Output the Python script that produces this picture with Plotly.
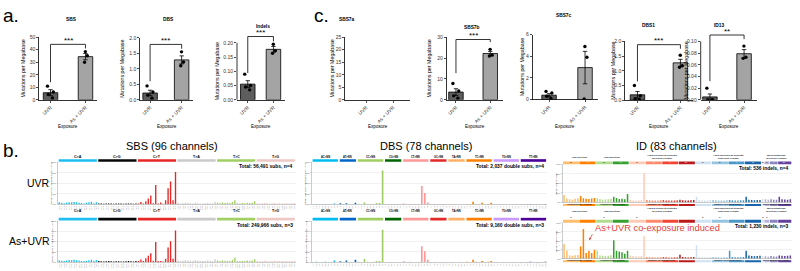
import plotly.graph_objects as go

W, H = 800, 271
FONT = "Liberation Sans, Arial, sans-serif"


def fx(p):
    return p / W


def fy(p):
    return 1 - p / H


# ======================= panel a / c : bar charts =======================
EXPOSURE = ["UVR", "As + UVR"]

SBS_UVR_PTS = [10.9, 6.2, 4.3, 1.5]
SBS_AS_PTS = [38.5, 35.2, 30.0]
SBS_MEAN = [5.7, 34.5]
SBS_SEM = [2.4, 2.5]
SBS_TICKS = [0, 10, 20, 30, 40, 50]
SBS_BRACKET = [14.0, 44.3, 41.0]

DBS_UVR_PTS = [0.45, 0.25, 0.15, 0.05]
DBS_AS_PTS = [1.55, 1.22, 1.10]
DBS_MEAN = [0.22, 1.29]
DBS_SEM = [0.09, 0.13]
DBS_TICKS = [0, 0.5, 1.0, 1.5, 2.0]
DBS_TICKTEXT = ["0.0", "0.5", "1.0", "1.5", "2.0"]
DBS_BRACKET = [0.60, 1.79, 1.65]

IND_UVR_PTS = [0.090, 0.050, 0.045, 0.035]
IND_AS_PTS = [0.195, 0.172, 0.163]
IND_MEAN = [0.055, 0.177]
IND_SEM = [0.012, 0.010]
IND_TICKS = [0, 0.05, 0.10, 0.15, 0.20]
IND_TICKTEXT = ["0.00", "0.05", "0.10", "0.15", "0.20"]
IND_BRACKET = [0.094, 0.222, 0.205]

SBS7A_TICKS = [0, 5, 10, 15, 20, 25]

SBS7B_UVR_PTS = [7.8, 4.2, 1.9, 0.8]
SBS7B_AS_PTS = [24.2, 21.4, 21.0]
SBS7B_MEAN = [3.7, 22.2]
SBS7B_SEM = [1.6, 1.0]
SBS7B_TICKS = [0, 10, 20, 30]
SBS7B_BRACKET = [12.8, 28.9, 27.7]

SBS7C_UVR_PTS = [0.60, 0.75, 0.30, 0.10]
SBS7C_AS_PTS = [4.90, 3.90, 0.05]
SBS7C_MEAN = [0.40, 2.95]
SBS7C_SEM = [0.14, 1.50]
SBS7C_TICKS = [0, 2, 4, 6]

DBS1_UVR_PTS = [0.50, 0.15, 0.05, 0.02]
DBS1_AS_PTS = [1.53, 1.17, 1.12]
DBS1_MEAN = [0.18, 1.27]
DBS1_SEM = [0.11, 0.12]
DBS1_BRACKET = [0.64, 1.89, 1.75]

ID13_UVR_PTS = [0.020, 0.0, 0.0, 0.0]
ID13_AS_PTS = [0.092, 0.073, 0.071]
ID13_MEAN = [0.005, 0.079]
ID13_SEM = [0.005, 0.007]
ID13_TICKS = [0, 0.02, 0.04, 0.06, 0.08, 0.10]
ID13_TICKTEXT = ["0.00", "0.02", "0.04", "0.06", "0.08", "0.10"]
ID13_BRACKET = [0.032, 0.111, 0.104]

# ======================= panel b : spectra =======================
SBS96_CLASSES = ["C>A", "C>G", "C>T", "T>A", "T>C", "T>G"]
SBS96_FLANKS = ["A", "C", "G", "T"]
SBS96_TICKTEXT = [a + c[0] + b for c in SBS96_CLASSES for a in SBS96_FLANKS for b in SBS96_FLANKS]

SBS_UVR_CA = [1.0, 0.8, 0.6, 0.9, 1.1, 1.0, 1.2, 1.0, 0.8, 0.7, 0.5, 0.8, 1.0, 1.3, 0.6, 1.1]
SBS_UVR_CG = [0.5, 0.4, 0.3, 0.5, 0.5, 0.4, 0.3, 0.5, 0.4, 0.4, 0.3, 0.4, 0.5, 0.5, 0.3, 0.5]
SBS_UVR_CT = [0.5, 1.2, 0.4, 1.5, 2.8, 4.3, 0.6, 9.2, 0.4, 0.9, 0.3, 2.0, 7.7, 10.9, 2.0, 15.4]
SBS_UVR_TA = [0.7, 0.5, 0.6, 0.8, 0.7, 0.6, 0.5, 0.8, 0.6, 0.5, 0.5, 0.6, 0.7, 0.6, 0.6, 1.3]
SBS_UVR_TC = [0.8, 0.6, 0.9, 0.7, 0.8, 0.7, 1.2, 2.0, 0.6, 0.5, 0.7, 0.6, 0.8, 0.7, 0.8, 1.5]
SBS_UVR_TG = [0.6, 0.5, 0.6, 0.7, 0.6, 0.5, 0.6, 0.7, 0.5, 0.6, 0.5, 0.6, 0.6, 0.5, 0.6, 0.7]
SBS_UVR_SPECTRUM = SBS_UVR_CA + SBS_UVR_CG + SBS_UVR_CT + SBS_UVR_TA + SBS_UVR_TC + SBS_UVR_TG

SBS_AS_CA = [0.9, 0.7, 0.6, 0.8, 1.0, 0.9, 1.2, 0.9, 0.8, 0.6, 0.5, 0.7, 0.9, 1.1, 0.6, 1.0]
SBS_AS_CG = [0.5, 0.4, 0.3, 0.4, 0.5, 0.4, 0.3, 0.4, 0.4, 0.3, 0.3, 0.4, 0.5, 0.4, 0.3, 0.5]
SBS_AS_CT = [0.6, 1.3, 0.5, 1.9, 3.1, 4.3, 0.7, 9.8, 0.5, 0.6, 0.3, 1.6, 7.1, 10.2, 1.6, 15.4]
SBS_AS_TA = [0.8, 0.6, 0.7, 0.9, 0.8, 0.7, 0.5, 0.9, 0.7, 0.6, 0.5, 0.7, 0.8, 0.7, 0.6, 1.4]
SBS_AS_TC = [0.8, 0.6, 0.8, 0.7, 0.7, 0.6, 1.1, 2.2, 0.6, 0.5, 0.6, 0.6, 0.8, 0.7, 0.8, 1.4]
SBS_AS_TG = [0.6, 0.5, 0.6, 0.7, 0.6, 0.5, 0.5, 0.7, 0.5, 0.6, 0.5, 0.6, 0.6, 0.5, 0.6, 0.7]
SBS_AS_SPECTRUM = SBS_AS_CA + SBS_AS_CG + SBS_AS_CT + SBS_AS_TA + SBS_AS_TC + SBS_AS_TG

SBS_YTICKS = [0, 5, 10, 15, 20]

DBS78_CLASSES = ["AC>NN", "AT>NN", "CC>NN", "CG>NN", "CT>NN", "GC>NN", "TA>NN", "TC>NN", "TG>NN", "TT>NN"]
DBS78_TARGETS = [
    ["CA", "CG", "CT", "GA", "GG", "GT", "TA", "TG", "TT"],
    ["CA", "CC", "CG", "GA", "GC", "TA"],
    ["AA", "AG", "AT", "GA", "GG", "GT", "TA", "TG", "TT"],
    ["AT", "GC", "GT", "TA", "TC", "TT"],
    ["AA", "AC", "AG", "GA", "GC", "GG", "TA", "TC", "TG"],
    ["AA", "AG", "AT", "CA", "CG", "TA"],
    ["AT", "CG", "CT", "GC", "GG", "GT"],
    ["AA", "AG", "AT", "CA", "CG", "CT", "GA", "GG", "GT"],
    ["AA", "AC", "AT", "CA", "CC", "CT", "GA", "GC", "GT"],
    ["AA", "AC", "AG", "CA", "CC", "CG", "GA", "GC", "GG"],
]
DBS78_TICKTEXT = [t for grp in DBS78_TARGETS for t in grp]

DBS_UVR_SPECTRUM = (
    [0.2, 0.3, 0.1, 0.2, 0.3, 0.2, 0.1, 1.0, 0.2]
    + [1.2, 0.2, 1.2, 0.1, 0.2, 1.5]
    + [0.3, 0.2, 1.9, 0.3, 0.2, 0.4, 1.3, 1.3, 32.2]
    + [0.1, 0.1, 0.2, 0.1, 0.1, 0.1]
    + [1.0, 0.1, 0.3, 0.2, 0.1, 0.2, 17.5, 10.9, 1.9]
    + [0.1, 0.1, 0.1, 0.1, 0.1, 0.1]
    + [0.2, 0.1, 0.2, 0.1, 0.1, 0.2]
    + [0.3, 0.2, 2.5, 0.3, 0.2, 1.5, 0.2, 0.3, 1.5]
    + [0.2, 0.1, 0.2, 0.1, 0.2, 0.1, 0.2, 0.1, 0.2]
    + [0.2, 0.1, 0.2, 0.3, 0.1, 0.2, 0.1, 0.2, 0.3]
)
DBS_AS_SPECTRUM = (
    [0.2, 0.3, 0.1, 0.2, 0.3, 0.2, 0.1, 1.6, 0.2]
    + [0.8, 0.2, 1.6, 0.1, 0.2, 2.2]
    + [0.3, 0.2, 3.1, 0.3, 0.2, 0.4, 1.2, 1.2, 31.6]
    + [0.1, 0.1, 0.2, 0.1, 0.1, 0.1]
    + [0.8, 0.1, 0.3, 0.2, 0.1, 0.2, 15.5, 10.5, 2.2]
    + [0.1, 0.1, 0.1, 0.1, 0.1, 0.1]
    + [0.2, 0.1, 0.2, 0.1, 0.1, 0.2]
    + [0.3, 0.2, 2.2, 0.3, 0.2, 1.0, 0.2, 0.3, 1.2]
    + [0.2, 0.1, 0.2, 0.1, 0.2, 0.1, 0.2, 0.1, 0.2]
    + [0.2, 0.1, 0.2, 0.3, 0.1, 0.2, 0.1, 0.2, 0.3]
)
DBS_YTICKS = [0, 10, 20, 30, 40]

ID83_STRIPS = ["C", "T", "C", "T", "2", "3", "4", "5+", "2", "3", "4", "5+", "2", "3", "4", "5+"]
ID83_SIZES = [6, 6, 6, 6, 6, 6, 6, 6, 6, 6, 6, 6, 1, 2, 3, 5]
ID83_HEADERS = ["1bp Deletion", "1bp Insertion", ">1bp Deletion at Repeats<br>(Deletion Length)",
                ">1bp Insertion at Repeats<br>(Insertion Length)", "Microhomology<br>(Deletion Length)"]
ID83_FOOTERS = ["Homopolymer Length", "Homopolymer Length", "Number of Repeat Units",
                "Number of Repeat Units", "Microhomology Length"]
ID83_HEADER_SPANS = [(0, 1), (2, 3), (4, 7), (8, 11), (12, 15)]

ID_UVR_SPECTRUM = (
    [7.8, 4.2, 3.5, 3.0, 3.8, 4.5]
    + [6.8, 4.4, 4.0, 3.6, 4.2, 4.8]
    + [4.4, 3.6, 3.0, 3.2, 3.4, 4.0]
    + [6.1, 4.8, 3.6, 3.9, 3.5, 8.8]
    + [2.7, 2.2, 2.0, 2.2, 2.4, 30.8]
    + [2.7, 2.3, 2.2, 2.0, 2.1, 2.3]
    + [2.7, 2.2, 2.1, 2.0, 2.2, 2.4]
    + [2.9, 2.4, 2.2, 2.1, 2.3, 2.5]
    + [6.1, 2.7, 2.4, 2.2, 2.3, 2.5]
    + [2.7, 2.3, 2.2, 2.1, 2.2, 2.4]
    + [2.7, 2.4, 2.2, 2.0, 2.3, 2.4]
    + [6.1, 2.9, 2.6, 2.4, 2.5, 2.7]
    + [3.7]
    + [3.5, 3.0]
    + [3.3, 3.0, 2.8]
    + [6.0, 3.5, 3.2, 3.0, 3.4]
)
ID_AS_SPECTRUM = (
    [16.4, 9.0, 3.6, 3.2, 3.8, 4.2]
    + [13.6, 32.9, 6.4, 8.9, 6.4, 10.0]
    + [8.9, 3.6, 3.2, 3.0, 3.4, 3.8]
    + [20.4, 8.9, 7.9, 7.1, 5.4, 8.9]
    + [3.6, 3.0, 2.8, 2.6, 3.0, 25.0]
    + [1.8, 1.6, 1.5, 1.4, 1.5, 1.7]
    + [1.8, 1.5, 1.4, 1.3, 1.5, 1.7]
    + [4.3, 1.8, 1.5, 1.4, 1.6, 1.8]
    + [15.0, 1.8, 1.6, 1.5, 1.6, 1.8]
    + [1.8, 1.6, 1.5, 1.4, 1.5, 1.7]
    + [8.9, 1.8, 1.6, 1.5, 1.6, 1.8]
    + [8.9, 3.6, 3.0, 2.8, 3.0, 3.4]
    + [2.9]
    + [2.9, 2.5]
    + [2.9, 2.6, 2.4]
    + [3.6, 3.2, 3.0, 3.3, 3.6]
)
ID_YTICKS = [0, 10, 20, 30, 40]

TOTALS = {
    ("SBS", 0): "Total: 56,491 subs, n=4",
    ("SBS", 1): "Total: 249,966 subs, n=3",
    ("DBS", 0): "Total: 2,037 double subs, n=4",
    ("DBS", 1): "Total: 9,160 double subs, n=3",
    ("ID", 0): "Total: 536 indels, n=4",
    ("ID", 1): "Total: 1,230 indels, n=3",
}

# ======================= styles =======================
BAR_FILLS = ["#5d5d5d", "#a4a4a4"]
SBS_COLORS = ["#1ebff0", "#050708", "#e62725", "#cbcacb", "#a1cf64", "#edc8c5"]
DBS_COLORS = ["#03bcee", "#0266ca", "#a1ce63", "#006501", "#ff9898", "#e22926",
              "#ffb066", "#fd8000", "#cb98fd", "#4c0299"]
ID_COLORS = ["#fdbe6f", "#ff8001", "#b0dd8b", "#36a12e", "#fdcab5", "#fc8a6a", "#f14432", "#bc191a",
             "#d0e1f2", "#94c4df", "#4a98c9", "#1764ab", "#e2e2ef", "#b6b6d8", "#8683bd", "#62409b"]
ID_STRIP_TEXT = ["black", "white", "black", "white", "black", "white", "white", "white",
                 "black", "black", "white", "white", "black", "black", "white", "white"]

layout = dict(
    width=W, height=H, margin=dict(l=0, r=0, t=0, b=0), autosize=False,
    paper_bgcolor="white", plot_bgcolor="white", showlegend=False,
    font=dict(family=FONT, color="black"),
)
traces, shapes, annotations = [], [], []


def ax_names(n):
    s = "" if n == 1 else str(n)
    return "xaxis" + s, "yaxis" + s, "x" + s, "y" + s


def text(t, x, y, size, xanchor="center", yanchor="middle", color="black", angle=0, bold=False, **kw):
    if bold:
        t = "<b>" + t + "</b>"
    d = dict(text=t, x=fx(x), y=fy(y), xref="paper", yref="paper", showarrow=False,
             xanchor=xanchor, yanchor=yanchor, textangle=angle,
             font=dict(size=size, color=color, family=FONT))
    d.update(kw)
    annotations.append(d)


BAR_CHARTS = [
    dict(title="SBS", uvr=SBS_UVR_PTS, asu=SBS_AS_PTS, mean=SBS_MEAN, sem=SBS_SEM, ticks=SBS_TICKS,
         ticktext=None, bracket=SBS_BRACKET, stars="***", box=(39, 97, 35, 99), xrange=[-0.33, 1.33],
         ext=None, ytx=23, tpos=(71, 17)),
    dict(title="DBS", uvr=DBS_UVR_PTS, asu=DBS_AS_PTS, mean=DBS_MEAN, sem=DBS_SEM, ticks=DBS_TICKS,
         ticktext=DBS_TICKTEXT, bracket=DBS_BRACKET, stars="***", box=(140, 193, 35.7, 99),
         xrange=[-0.32, 1.36], ext=None, ytx=122, tpos=(168, 17)),
    dict(title="Indels", uvr=IND_UVR_PTS, asu=IND_AS_PTS, mean=IND_MEAN, sem=IND_SEM, ticks=IND_TICKS,
         ticktext=IND_TICKTEXT, bracket=IND_BRACKET, stars="***", box=(237, 285, 40.7, 99),
         xrange=[-0.42, 1.45], ext=0.232, ytx=217, tpos=(263, 24.3)),
    dict(title="SBS7a", uvr=None, asu=None, mean=None, sem=None, ticks=SBS7A_TICKS,
         ticktext=None, bracket=None, stars=None, box=(345, 410, 35, 99),
         xrange=[-0.78, 1.63], ext=None, ytx=332, tpos=(347, 17)),
    dict(title="SBS7b", uvr=SBS7B_UVR_PTS, asu=SBS7B_AS_PTS, mean=SBS7B_MEAN, sem=SBS7B_SEM,
         ticks=SBS7B_TICKS, ticktext=None, bracket=SBS7B_BRACKET, stars="***", box=(446.7, 503.3, 35, 99),
         xrange=[-0.27, 1.38], ext=None, ytx=429, tpos=(472.5, 25)),
    dict(title="SBS7c", uvr=SBS7C_UVR_PTS, asu=SBS7C_AS_PTS, mean=SBS7C_MEAN, sem=SBS7C_SEM,
         ticks=SBS7C_TICKS, ticktext=None, bracket=None, stars=None, box=(532.5, 598, 32.3, 98.7),
         xrange=[-0.46, 1.36], ext=None, ytx=522, tpos=(564, 12.7)),
    dict(title="DBS1", uvr=DBS1_UVR_PTS, asu=DBS1_AS_PTS, mean=DBS1_MEAN, sem=DBS1_SEM, ticks=DBS_TICKS,
         ticktext=DBS_TICKTEXT, bracket=DBS1_BRACKET, stars="***", box=(625, 693.3, 39.3, 99.3),
         xrange=[-0.29, 1.30], ext=None, ytx=613, tpos=(648, 22.7)),
    dict(title="ID13", uvr=ID13_UVR_PTS, asu=ID13_AS_PTS, mean=ID13_MEAN, sem=ID13_SEM, ticks=ID13_TICKS,
         ticktext=ID13_TICKTEXT, bracket=ID13_BRACKET, stars="**", box=(700.7, 756.7, 39.3, 99),
         xrange=[-0.27, 1.37], ext=0.116, ytx=686, tpos=(718.5, 22.7)),
]

for i, c in enumerate(BAR_CHARTS):
    n = i + 1
    xk, yk, xr, yr = ax_names(n)
    L, R, T, B = c["box"]
    tmax = c["ticks"][-1]
    ext = c["ext"] or tmax
    top_px = B - (B - T) * ext / tmax
    unit_px = (R - L) / (c["xrange"][1] - c["xrange"][0])
    layout[xk] = dict(domain=[fx(L), fx(R)], anchor=yr, type="category", categoryorder="array",
                      categoryarray=EXPOSURE, range=c["xrange"], showline=True, linecolor="black",
                      linewidth=0.8, ticks="outside", ticklen=2, tickwidth=0.7, tickcolor="black",
                      tickangle=-45, tickfont=dict(size=5, color="#333"), showgrid=False,
                      zeroline=False, fixedrange=True)
    ya = dict(domain=[fy(B), fy(top_px)], anchor=xr, range=[0, ext], tickmode="array",
              tickvals=c["ticks"], showline=(ext == tmax), linecolor="black", linewidth=0.8,
              ticks="outside", ticklen=2, tickwidth=0.7, tickcolor="black",
              tickfont=dict(size=5, color="#333"), showgrid=False, zeroline=False, fixedrange=True)
    if c["ticktext"]:
        ya["ticktext"] = c["ticktext"]
    layout[yk] = ya
    if ext != tmax:
        shapes.append(dict(type="line", xref=xr + " domain", yref=yr, x0=0, x1=0, y0=0, y1=tmax,
                           line=dict(color="black", width=0.8)))
    if c["mean"]:
        traces.append(go.Bar(x=EXPOSURE, y=c["mean"], width=14.5 / unit_px,
                             marker=dict(color=BAR_FILLS, line=dict(color="black", width=0.8)),
                             error_y=dict(type="data", array=c["sem"], color="black", thickness=0.8, width=2.2),
                             xaxis=xr, yaxis=yr, hoverinfo="skip"))
        pts_x = [EXPOSURE[0]] * len(c["uvr"]) + [EXPOSURE[1]] * len(c["asu"])
        traces.append(go.Box(x=pts_x, y=c["uvr"] + c["asu"], boxpoints="all", jitter=0.9, pointpos=0,
                             width=8 / unit_px, fillcolor="rgba(0,0,0,0)",
                             line=dict(width=0, color="rgba(0,0,0,0)"),
                             marker=dict(color="black", size=3.4), xaxis=xr, yaxis=yr, hoverinfo="skip"))
    else:
        traces.append(go.Scatter(x=EXPOSURE, y=[0, 0], mode="markers", marker=dict(opacity=0),
                                 xaxis=xr, yaxis=yr, hoverinfo="skip"))
    if c["bracket"]:
        lb, h, rb = c["bracket"]
        traces.append(go.Scatter(x=[EXPOSURE[0], EXPOSURE[0], EXPOSURE[1], EXPOSURE[1]], y=[lb, h, h, rb],
                                 mode="lines", line=dict(color="black", width=0.8),
                                 xaxis=xr, yaxis=yr, hoverinfo="skip"))
        annotations.append(dict(text=c["stars"], x=0.5, y=h, xref=xr, yref=yr, yanchor="bottom",
                                showarrow=False, yshift=-2.5, font=dict(size=8, color="black", family=FONT)))
    text(c["title"], c["tpos"][0], c["tpos"][1], 4.8, bold=True)
    text("Mutations per Megabase", c["ytx"], (T + B) / 2, 5.3, angle=-90)
    text("Exposure", (L + R) / 2, 126.5, 4.6)

# ----------------------- spectra -----------------------
SPECTRA = [
    dict(kind="SBS", row=0, box=(58, 295.5, 163, 206), values=SBS_UVR_SPECTRUM),
    dict(kind="SBS", row=1, box=(58, 295.5, 223, 265), values=SBS_AS_SPECTRUM),
    dict(kind="DBS", row=0, box=(311.7, 547, 163, 206), values=DBS_UVR_SPECTRUM),
    dict(kind="DBS", row=1, box=(311.7, 547, 223, 265), values=DBS_AS_SPECTRUM),
    dict(kind="ID", row=0, box=(562.7, 791.7, 165, 204), values=ID_UVR_SPECTRUM),
    dict(kind="ID", row=1, box=(562.7, 791.7, 224.7, 261.5), values=ID_AS_SPECTRUM),
]

for j, s in enumerate(SPECTRA):
    n = 9 + j
    xk, yk, xr, yr = ax_names(n)
    L, R, T, B = s["box"]
    kind = s["kind"]
    vals = s["values"]
    N = len(vals)
    if kind == "SBS":
        sizes, cols, names = [16] * 6, SBS_COLORS, SBS96_CLASSES
        yt, ytitle, ticktext, gap = SBS_YTICKS, "Percentage of Single Base Substitutions", SBS96_TICKTEXT, 0.55
    elif kind == "DBS":
        sizes, cols, names = [len(g) for g in DBS78_TARGETS], DBS_COLORS, DBS78_CLASSES
        yt, ytitle, ticktext, gap = DBS_YTICKS, "Percentage of Double Base Substitutions", DBS78_TICKTEXT, 0.6
    else:
        sizes, cols, names = ID83_SIZES, ID_COLORS, ID83_STRIPS
        yt, ytitle, ticktext, gap = ID_YTICKS, "Percentage of Indels", None, 0.2
    colors, starts = [], []
    k = 0
    for size, col in zip(sizes, cols):
        starts.append(k)
        colors += [col] * size
        k += size
    xa = dict(domain=[fx(L), fx(R)], anchor=yr, range=[-0.5, N - 0.5], showline=True, linecolor="#9a9a9a",
              linewidth=0.5, showgrid=False, zeroline=False, ticks="", fixedrange=True)
    if ticktext:
        xa.update(tickmode="array", tickvals=list(range(N)), ticktext=ticktext, tickangle=-90,
                  tickfont=dict(size=2.0, color="#9a9a9a"), ticklabelstandoff=0)
    else:
        xa.update(showticklabels=False)
    layout[xk] = xa
    layout[yk] = dict(domain=[fy(B), fy(T)], anchor=xr, range=[0, yt[-1]], tickmode="array", tickvals=yt,
                      ticktext=[f"{v}%" for v in yt], showline=True, linecolor="#9a9a9a", linewidth=0.5,
                      ticks="outside", ticklen=1, tickwidth=0.5, tickcolor="#9a9a9a",
                      tickfont=dict(size=2.4, color="#555"), showgrid=True, gridcolor="#e4e4e4",
                      gridwidth=0.5, zeroline=False, fixedrange=True)
    traces.append(go.Bar(x=list(range(N)), y=vals, width=0.55, marker=dict(color=colors, line=dict(width=0)),
                         xaxis=xr, yaxis=yr, hoverinfo="skip"))
    text(ytitle, L - 6.5, (T + B) / 2, 2.3, angle=-90, color="#333")
    text("<b>" + TOTALS[(kind, s["row"])] + "</b>", R - 1, T + 4.3, 4.9, xanchor="right")

    # category strips
    for gi, (st, size) in enumerate(zip(starts, sizes)):
        x0, x1 = st - 0.5 + gap / 2, st + size - 0.5 - gap / 2
        if kind == "ID":
            shapes.append(dict(type="rect", xref=xr, yref="paper", x0=x0, x1=x1, y0=fy(T), y1=fy(T - 3),
                               fillcolor=cols[gi], line=dict(width=0)))
            shapes.append(dict(type="rect", xref=xr, yref="paper", x0=x0, x1=x1, y0=fy(B + 3.5),
                               y1=fy(B + 1.5), fillcolor=cols[gi], line=dict(width=0)))
            annotations.append(dict(text=names[gi], x=(x0 + x1) / 2, y=fy(T - 1.5), xref=xr, yref="paper",
                                    showarrow=False, font=dict(size=2.4, color=ID_STRIP_TEXT[gi], family=FONT)))
        else:
            shapes.append(dict(type="rect", xref=xr, yref="paper", x0=x0, x1=x1, y0=fy(T - 0.6),
                               y1=fy(T - 3.3), fillcolor=cols[gi], line=dict(width=0)))
            annotations.append(dict(text="<b>" + names[gi] + "</b>", x=(x0 + x1) / 2, y=fy(T - 6),
                                    xref=xr, yref="paper", showarrow=False,
                                    font=dict(size=3.6 if kind == "SBS" else 2.6, color="black", family=FONT)))
    if kind == "ID":
        for (a, b), head, foot in zip(ID83_HEADER_SPANS, ID83_HEADERS, ID83_FOOTERS):
            xc = (starts[a] + starts[b] + sizes[b] - 1) / 2
            annotations.append(dict(text="<b>" + head + "</b>", x=xc, y=fy(T - 7.5), xref=xr, yref="paper",
                                    showarrow=False, font=dict(size=2.5, color="#222", family=FONT)))
            annotations.append(dict(text="<b>" + foot + "</b>", x=xc, y=fy(B + 5.6), xref=xr, yref="paper",
                                    showarrow=False, font=dict(size=2.4, color="#222", family=FONT)))
    if kind == "ID" and s["row"] == 1:
        annotations.append(dict(text="", x=9.1, y=20.5, xref=xr, yref=yr, showarrow=True, ax=4, ay=-7.5,
                                arrowhead=2, arrowsize=0.6, arrowwidth=0.8, arrowcolor="#e5403a"))

# ----------------------- panel labels & headings -----------------------
text("a.", 1, 12.3, 19, xanchor="left")
text("c.", 312, 12.6, 19, xanchor="left")
text("b.", 1, 151, 19, xanchor="left")
text("SBS (96 channels)", 172, 146, 11)
text("DBS (78 channels)", 425.5, 146, 11)
text("ID (83 channels)", 676, 146, 11)
text("UVR", 52, 184, 10.5, xanchor="right")
text("As+UVR", 52, 243, 10.5, xanchor="right")
text("As+UVR co-exposure induced", 657.5, 230, 9.3, color="#e5403a")

layout["shapes"] = shapes
layout["annotations"] = annotations

fig = go.Figure(data=traces, layout=layout)
fig.write_html(
    "out.html",
    config={"displayModeBar": False, "staticPlot": True},
    post_script="document.body.style.margin='0';document.body.style.padding='0';"
                "document.documentElement.style.overflow='hidden';",
)
